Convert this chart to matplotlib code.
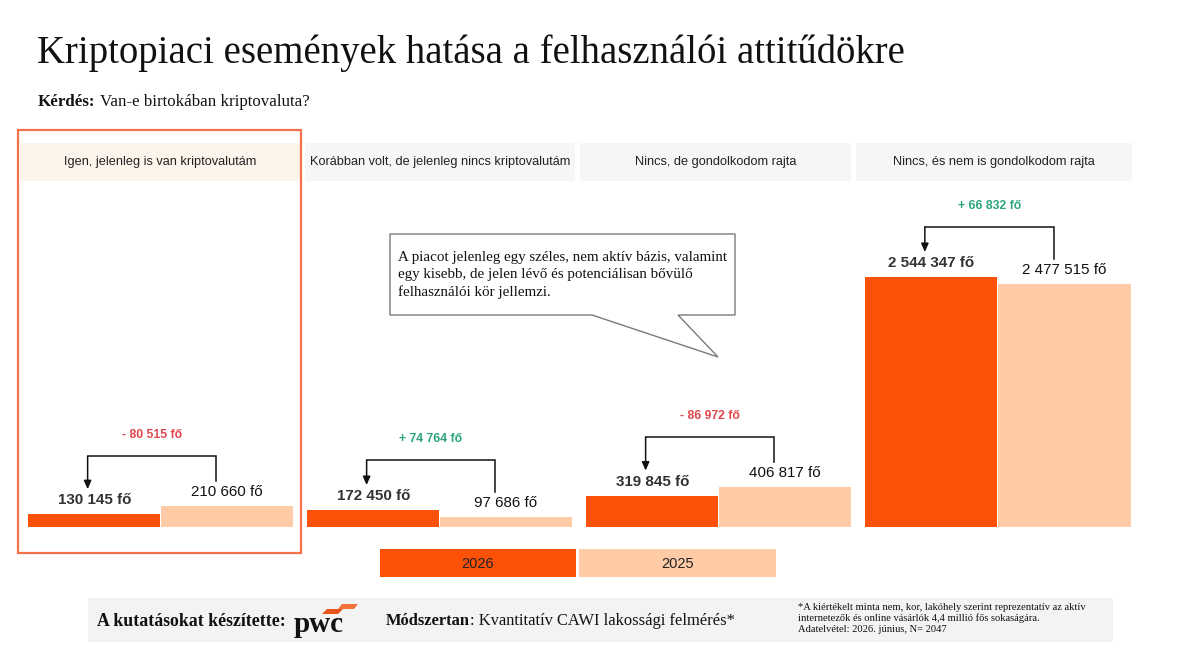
import matplotlib
matplotlib.use("Agg")
import matplotlib.pyplot as plt
from matplotlib.patches import Rectangle, Polygon

# ---------------- data ----------------
categories = [
    "Igen, jelenleg is van kriptovalutám",
    "Korábban volt, de jelenleg nincs kriptovalutám",
    "Nincs, de gondolkodom rajta",
    "Nincs, és nem is gondolkodom rajta",
]
values_2026 = [130145, 172450, 319845, 2544347]
values_2025 = [210660, 97686, 406817, 2477515]
series_names = ["2026", "2025"]
title = "Kriptopiaci események hatása a felhasználói attitűdökre"
question_label = "Kérdés:"
question_text = " Van-e birtokában kriptovaluta?"
callout_lines = ["A piacot jelenleg egy széles, nem aktív bázis, valamint",
                 "egy kisebb, de jelen lévő és potenciálisan bővülő",
                 "felhasználói kör jellemzi."]
footnote_lines = ["*A kiértékelt minta nem, kor, lakóhely szerint reprezentatív az aktív",
                  "internetezők és online vásárlók 4,4 millió fős sokaságára.",
                  "Adatelvétel: 2026. június, N= 2047"]

def fmt(v):
    return f"{v:,}".replace(",", " ") + " fő"

def fmt_change(d):
    s = "+ " if d > 0 else "- "
    return s + f"{abs(d):,}".replace(",", " ") + " fő"

# ---------------- style ----------------
C26 = "#fd5108"
C25 = "#fecba6"
RED = "#e0474c"
GREEN = "#2ba57b"
SERIF = "Liberation Serif"
SANS = "Liberation Sans"

W, H = 1200, 670
fig = plt.figure(figsize=(W / 100, H / 100), dpi=100)
fig.patch.set_facecolor("white")

def fx(px):
    return px / W

def fy(py):
    return 1 - py / H

def frect(x0, y0, x1, y1, **kw):
    fig.patches.append(Rectangle((fx(x0), fy(y1)), fx(x1) - fx(x0), fy(y0) - fy(y1),
                                 transform=fig.transFigure, **kw))

# title + question
fig.text(fx(37), fy(53), title, fontsize=27.9, family=SERIF, va="center", ha="left", color="#111111")
t = fig.text(fx(38), fy(102), question_label, fontsize=12.2, family=SERIF, weight="bold",
             va="center", ha="left", color="#111111")
fig.canvas.draw()
bb = t.get_window_extent()
fig.text(bb.x1 / W, fy(102), question_text, fontsize=12.2, family=SERIF, va="center", ha="left",
         color="#111111")

# headers
header_x = [(20, 300), (305, 575), (580, 851), (856, 1132)]
header_bg = ["#fdf5ec", "#f5f6f8", "#f5f6f8", "#f5f6f8"]
for (x0, x1), bg, cat in zip(header_x, header_bg, categories):
    frect(x0, 143, x1, 181, facecolor=bg, edgecolor="none", zorder=0)
    fig.text(fx((x0 + x1) / 2), fy(162), cat, fontsize=9.2, family=SANS, ha="center", va="center",
             color="#222222")

# highlight frame
frect(18, 130, 301, 553, facecolor="none", edgecolor="#f4714a", linewidth=1.6, zorder=5)

# panels
panel_x = [(28, 293), (307, 572), (586, 851), (865, 1131)]
base_py, top_py = 527, 190
ax_h_px = base_py - top_py
YMAX = 3.43e6
PX = YMAX / ax_h_px  # data units per pixel

for i, (x0, x1) in enumerate(panel_x):
    ax = fig.add_axes([fx(x0), fy(base_py), fx(x1) - fx(x0), fy(top_py) - fy(base_py)])
    ax.set_xlim(0, 2)
    ax.set_ylim(0, YMAX)
    ax.axis("off")
    v26, v25 = values_2026[i], values_2025[i]
    ax.bar([0, 1], [v26, v25], width=[0.995, 1.0], align="edge", color=[C26, C25],
           edgecolor="none")
    l26 = v26 + 14 * PX
    l25 = v25 + 14 * PX
    ax.text(0.5, l26, fmt(v26), ha="center", va="center", fontsize=10.9, family=SANS,
            weight="bold", color="#333333")
    ax.text(1.5, l25, fmt(v25), ha="center", va="center", fontsize=10.9, family=SANS,
            color="#111111")
    ybr = max(v26, v25) + 50 * PX
    xl, xr = 0.45, 1.42
    ax.plot([xl, xr, xr], [ybr, ybr, l25 + 11 * PX], color="#111111", lw=1.1,
            solid_joinstyle="miter", clip_on=False)
    ax.annotate("", xy=(xl, l26 + 11 * PX), xytext=(xl, ybr),
                arrowprops=dict(arrowstyle="-|>,head_length=0.5,head_width=0.22",
                                color="#111111", lw=1.1, shrinkA=0, shrinkB=0),
                annotation_clip=False)
    d = v26 - v25
    ax.text((xl + xr) / 2, ybr + 21 * PX, fmt_change(d), ha="center", va="center",
            fontsize=8.8, family=SANS, weight="bold", color=GREEN if d > 0 else RED)

# callout
call = Polygon([(fx(390), fy(234)), (fx(735), fy(234)), (fx(735), fy(315)), (fx(678), fy(315)),
                (fx(718), fy(357)), (fx(592), fy(315)), (fx(390), fy(315))],
               closed=True, transform=fig.transFigure, facecolor="white",
               edgecolor="#7a7a7a", linewidth=1.0, zorder=6)
fig.patches.append(call)
for k, line in enumerate(callout_lines):
    fig.text(fx(398), fy(257 + 17.5 * k), line, fontsize=10.8, family=SERIF, ha="left",
             va="center", color="#111111", zorder=7)

# legend
leg_x = [(380, 576), (579, 776)]
for (x0, x1), c, name in zip(leg_x, [C26, C25], series_names):
    frect(x0, 549, x1, 577, facecolor=c, edgecolor="none")
    fig.text(fx((x0 + x1) / 2), fy(564), name, fontsize=10.5, family=SANS, ha="center",
             va="center", color="#222222")

# footer
frect(88, 598, 1113, 642, facecolor="#f3f3f3", edgecolor="none")
fig.text(fx(97), fy(621), "A kutatásokat készítette:", fontsize=12.8, family=SERIF, weight="bold",
         ha="left", va="center", color="#111111")
fig.text(fx(294), fy(625), "pwc", fontsize=21, family=SERIF, weight="bold", ha="left",
         va="center", color="#111111")
fig.patches.append(Polygon([(fx(322), fy(614)), (fx(327), fy(609)), (fx(343), fy(609)),
                            (fx(338), fy(614))], closed=True, transform=fig.transFigure,
                           facecolor="#e8541c", edgecolor="none"))
fig.patches.append(Polygon([(fx(338), fy(609)), (fx(342), fy(604)), (fx(358), fy(604)),
                            (fx(354), fy(609))], closed=True, transform=fig.transFigure,
                           facecolor="#f0743a", edgecolor="none"))
t2 = fig.text(fx(386), fy(621), "Módszertan", fontsize=11.9, family=SERIF, weight="bold",
              ha="left", va="center", color="#111111")
fig.canvas.draw()
bb2 = t2.get_window_extent()
fig.text(bb2.x1 / W, fy(621), ": Kvantitatív CAWI lakossági felmérés*", fontsize=11.9,
         family=SERIF, ha="left", va="center", color="#111111")
for k, line in enumerate(footnote_lines):
    fig.text(fx(798), fy(607 + 11.2 * k), line, fontsize=7.6, family=SERIF, ha="left",
             va="center", color="#111111")

fig.savefig("out.png", dpi=100, facecolor="white")
